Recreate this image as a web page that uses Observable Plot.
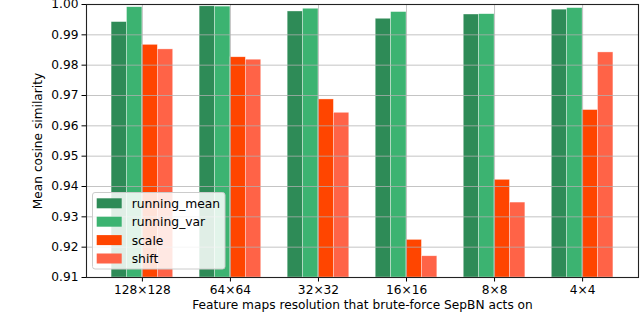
<!DOCTYPE html>
<html><head><meta charset="utf-8">
<script src="https://cdn.jsdelivr.net/npm/d3@7"></script>
<script src="https://cdn.jsdelivr.net/npm/@observablehq/plot@0.6"></script>
<style>
body{margin:0;background:#fff;}
#chart{width:640px;height:315px;}
svg{font-family:"DejaVu Sans",sans-serif;}
</style></head>
<body><div id="chart"></div>
<script>
const groups = ["128×128","64×64","32×32","16×16","8×8","4×4"];
const seriesNames = ["running_mean","running_var","scale","shift"];
const runningMean = [0.9942, 0.9994, 0.9977, 0.9953, 0.9967, 0.9983];
const runningVar  = [0.9991, 0.9993, 0.9986, 0.9975, 0.9968, 0.9988];
const scaleVals   = [0.9867, 0.9826, 0.9687, 0.9224, 0.9422, 0.9652];
const shiftVals   = [0.9852, 0.9818, 0.9643, 0.9170, 0.9347, 0.9842];
const colors = ["#2e8b57","#3cb371","#ff4500","#ff6347"];
const yTicks = [0.91,0.92,0.93,0.94,0.95,0.96,0.97,0.98,0.99,1.00];
const yLabel = "Mean cosine similarity";
const xLabel = "Feature maps resolution that brute-force SepBN acts on";

const seriesVals = [runningMean, runningVar, scaleVals, shiftVals];
const barW = 0.175;
const rows = [];
groups.forEach((g, i) => {
  seriesVals.forEach((vals, j) => {
    rows.push({i, s: seriesNames[j], x1: i + (j - 2) * barW, x2: i + (j - 1) * barW, v: vals[i]});
  });
});
const gIdx = groups.map((g, i) => i);

const chart = Plot.plot({
  width: 640, height: 315,
  marginLeft: 86, marginRight: 2, marginTop: 4, marginBottom: 38,
  style: {fontFamily: "DejaVu Sans, sans-serif", fontSize: "12.2px", color: "#000", background: "#fff"},
  x: {domain: [-0.635, 5.635], ticks: gIdx, tickFormat: i => groups[i], tickSize: 4.5, tickPadding: 3, label: null},
  y: {domain: [0.91, 1.0], ticks: yTicks, tickFormat: d3.format(".2f"), tickSize: 4.5, tickPadding: 3.5, label: null},
  color: {domain: seriesNames, range: colors},
  marks: [
    Plot.rectY(rows, {x1: "x1", x2: "x2", y1: 0.91, y2: "v", fill: "s", stroke: "white", strokeWidth: 0.6, strokeOpacity: 0.6}),
    Plot.ruleY(yTicks, {stroke: "#b0b0b0", strokeOpacity: 0.75, strokeWidth: 1}),
    Plot.ruleX(gIdx, {stroke: "#b0b0b0", strokeOpacity: 0.75, strokeWidth: 1}),
    Plot.frame({stroke: "#222", strokeWidth: 1.1}),
    Plot.text([yLabel], {frameAnchor: "left", dx: -48, rotate: -90, textAnchor: "middle", lineAnchor: "middle", fontSize: 12.2, fill: "#000"}),
    Plot.text([xLabel], {frameAnchor: "bottom", dy: 28, textAnchor: "middle", lineAnchor: "middle", fontSize: 12.2, fill: "#000"})
  ]
});
document.getElementById("chart").appendChild(chart);

// legend
const svg = d3.select(chart);
const lg = svg.append("g").attr("transform", "translate(92.5,192.5)");
lg.append("rect").attr("width", 132.5).attr("height", 76.5).attr("rx", 2.5)
  .attr("fill", "white").attr("fill-opacity", 0.85).attr("stroke", "#cccccc").attr("stroke-width", 1);
seriesNames.forEach((name, k) => {
  const cy = 10.8 + k * 18.4;
  lg.append("rect").attr("x", 4.2).attr("y", cy - 5).attr("width", 25).attr("height", 10).attr("fill", colors[k]);
  lg.append("text").attr("x", 39.2).attr("y", cy).attr("dy", "0.36em").attr("text-anchor", "start")
    .attr("font-size", 12.3).attr("fill", "#000").text(name);
});
</script>
</body></html>
